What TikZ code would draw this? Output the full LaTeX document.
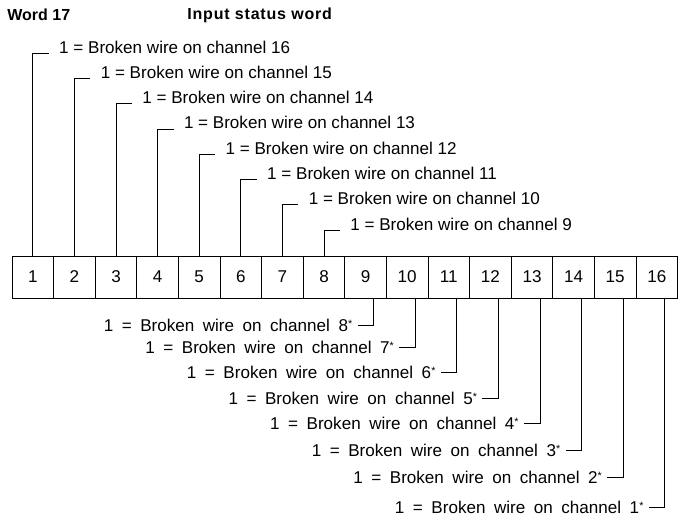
\documentclass[tikz,border=0pt]{standalone}
\usepackage{fontspec}
\setmainfont{Liberation Sans}
\newfontfamily\widefont[WordSpace=1.8]{Liberation Sans}
\newfontfamily\titlefont[LetterSpace=5]{Liberation Sans}
\usetikzlibrary{calc}
\newcommand\chstar{\raisebox{3pt}{\fontsize{8}{8}\selectfont *}}

\begin{document}
\begin{tikzpicture}[x=0.75pt,y=-0.75pt,line width=0.6pt,
  font=\fontsize{12.8}{15}\selectfont,
  cell/.style={draw,minimum width=31.2pt,minimum height=31.5pt,inner sep=0pt},
  lbl/.style={inner sep=0pt},
  blbl/.style={lbl,font=\widefont\fontsize{12.8}{15}\selectfont},
  head/.style={anchor=west,inner sep=0pt,font=\fontsize{12}{14}\selectfont\bfseries}]
\useasboundingbox (0,0) rectangle (679,519);
\node[head] (word) at (7,15) {Word 17};
\node[head,font=\titlefont\fontsize{12}{14}\selectfont\bfseries] (title) at (187,15) {Input status word};
% status word cells
\foreach \i in {1,...,16} {\node[cell] (c\i) at ({12+41.6*(\i-0.5)},277) {\i};}
% channels 16 to 9, above
\foreach \i in {1,...,8} {
  \pgfmathtruncatemacro\ch{17-\i}
  \node[lbl,anchor=base west] (t\ch) at ({12+41.6*(\i-0.5)+26},{53+25.3*(\i-1)}) {1 = Broken wire on channel \ch};
  \draw (c\i.north) |- ($(t\ch.base west)+(-10,0)$);
}
% channels 8 to 1, below
\foreach \i/\y in {9/325,10/347,11/372,12/398,13/423,14/450,15/477,16/507} {
  \pgfmathtruncatemacro\ch{17-\i}
  \node[blbl,anchor=east] (b\ch) at ({12+41.6*(\i-0.5)+8-21},\y) {1 = Broken wire on channel \ch\chstar};
  \draw ($(c\i.south)+(8,0)$) |- ($(b\ch.east)+(5,0)$);
}
\end{tikzpicture}
\end{document}
